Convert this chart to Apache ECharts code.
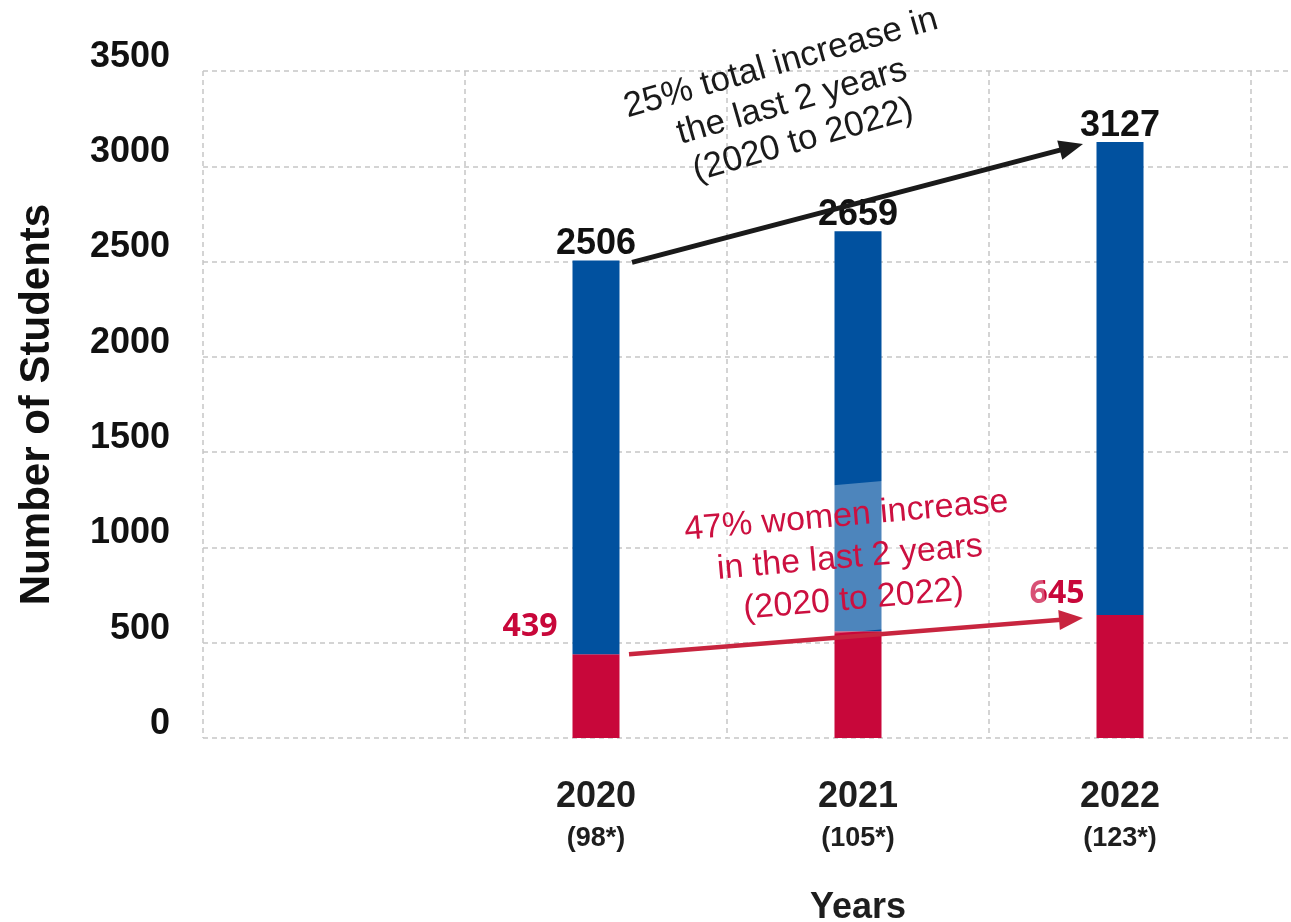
<!DOCTYPE html>
<html>
<head>
<meta charset="utf-8">
<script src="https://cdn.jsdelivr.net/npm/echarts@6/dist/echarts.min.js"></script>
<style>
html,body{margin:0;padding:0;background:#fff;}
#main{width:1291px;height:922px;}
</style>
</head>
<body>
<div id="main"></div>
<script>
// ---- data ----
const years = ['2020', '2021', '2022'];
const schoolCounts = ['98*', '105*', '123*'];
const women = [439, 560, 645];
const men = [2067, 2099, 2482];
const totals = [2506, 2659, 3127];
const totalNote = ['25% total increase in', 'the last 2 years', '(2020 to 2022)'];
const womenNote = ['47% women increase', 'in the last 2 years', '(2020 to 2022)'];

// ---- styling helpers ----
const womenLabelPos = [[-15, -27], null, [-12, -21]];
const FONT = '"Liberation Sans", Arial, sans-serif';
const cats = [''].concat(years);
const pad = arr => ['-'].concat(arr);
const gridLine = { color: '#c6c6c6', width: 1.5, type: [5, 4] };

const chart = echarts.init(document.getElementById('main'));

const womenData = pad(women.map((v, i) => ({
  value: v,
  label: womenLabelPos[i] ? { show: true, position: womenLabelPos[i] } : { show: false }
})));

chart.setOption({
  animation: false,
  textStyle: { fontFamily: FONT },
  grid: [
    { left: 203, top: 71, bottom: 184, right: 40, outerBoundsMode: 'none', containLabel: false },
    { left: 203, top: 71, bottom: 184, right: 0, outerBoundsMode: 'none', containLabel: false }
  ],
  xAxis: [
    {
      type: 'category',
      gridIndex: 0,
      data: cats,
      axisLine: { show: false },
      axisTick: { show: false },
      splitLine: { show: true, interval: 0, lineStyle: gridLine },
      axisLabel: {
        interval: 0,
        margin: 38,
        formatter: (v, i) => v ? '{y|' + v + '}\n{n|(' + schoolCounts[i - 1] + ')}' : '',
        rich: {
          y: { fontSize: 36, fontWeight: 'bold', lineHeight: 42, color: '#1e1e1e', fontFamily: FONT },
          n: { fontSize: 27, fontWeight: 'bold', lineHeight: 42, color: '#1e1e1e', fontFamily: FONT }
        }
      },
      name: 'Years',
      nameLocation: 'middle',
      nameGap: 152,
      nameTextStyle: {
        fontSize: 36, fontWeight: 'bold', color: '#1e1e1e', fontFamily: FONT,
        padding: [0, 0, 0, 262]
      }
    },
    { type: 'value', gridIndex: 1, show: false, min: 0, max: 1 }
  ],
  yAxis: [
    {
      type: 'value',
      gridIndex: 0,
      min: 0,
      max: 3500,
      interval: 500,
      axisLine: { show: false },
      axisTick: { show: false },
      splitLine: { show: false },
      axisLabel: {
        margin: 33, fontSize: 36, fontWeight: 'bold', color: '#111',
        fontFamily: FONT, verticalAlign: 'bottom', lineHeight: 28,
        formatter: v => String(v)
      },
      name: 'Number of Students',
      nameLocation: 'middle',
      nameGap: 145,
      nameTextStyle: { fontSize: 42, fontWeight: 'bold', color: '#111', fontFamily: FONT }
    },
    {
      type: 'value',
      gridIndex: 1,
      min: 0,
      max: 3500,
      interval: 500,
      axisLine: { show: false },
      axisTick: { show: false },
      axisLabel: { show: false },
      splitLine: { show: true, lineStyle: gridLine }
    }
  ],
  series: [
    {
      type: 'bar', name: 'Women', stack: 'students', barWidth: 47,
      xAxisIndex: 0, yAxisIndex: 0,
      itemStyle: { color: '#C8073A' },
      label: {
        show: true, align: 'right', verticalAlign: 'middle',
        fontSize: 32, fontWeight: 'bold', fontFamily: '"Open Sans", sans-serif',
        color: '#C8073A', formatter: '{c}'
      },
      data: womenData
    },
    {
      type: 'bar', name: 'Men', stack: 'students', barWidth: 47,
      xAxisIndex: 0, yAxisIndex: 0,
      itemStyle: { color: '#01519F' },
      label: {
        show: true, position: 'top', distance: 0, offset: [0, 2],
        fontSize: 36, fontWeight: 'bold', color: '#111', fontFamily: FONT,
        formatter: p => String(totals[p.dataIndex - 1])
      },
      data: pad(men)
    }
  ]
});

// ---- annotations anchored to data positions ----
const px = (i, v) => chart.convertToPixel({ xAxisIndex: 0, yAxisIndex: 0 }, [i + 1, v]);
function arrow(s, e, color, width, headLen, headW) {
  const dx = e[0] - s[0], dy = e[1] - s[1];
  const len = Math.sqrt(dx * dx + dy * dy);
  const ux = dx / len, uy = dy / len;
  const bx = e[0] - ux * headLen, by = e[1] - uy * headLen;
  return [
    { type: 'line', z: 110, shape: { x1: s[0], y1: s[1], x2: bx + ux * 2, y2: by + uy * 2 },
      style: { stroke: color, lineWidth: width } },
    { type: 'polygon', z: 110, shape: { points: [
        [e[0], e[1]],
        [bx - uy * headW / 2, by + ux * headW / 2],
        [bx + uy * headW / 2, by - ux * headW / 2]
      ] }, style: { fill: color } }
  ];
}
const add = (p, o) => [p[0] + o[0], p[1] + o[1]];
const deg = d => d * Math.PI / 180;

const bStart = add(px(0, totals[0]), [36, 2]);
const bEnd = add(px(2, totals[2]), [-37, 2]);
const rStart = add(px(0, women[0]), [33, 0]);
const rEnd = add(px(2, women[2]), [-37, 3]);

chart.setOption({
  graphic: [
    {
      type: 'text', z: 100, x: 850, y: 558, rotation: deg(5),
      style: {
        text: womenNote.join('\n'), fill: '#CC1040',
        fontSize: 34, fontFamily: FONT, align: 'center', verticalAlign: 'middle',
        lineHeight: 42, backgroundColor: 'rgba(255,255,255,0.3)', padding: [14, 28, 8, 28]
      }
    },
    {
      type: 'text', z: 100, x: 792, y: 102, rotation: deg(16),
      style: {
        text: totalNote.join('\n'), fill: '#1a1a1a',
        fontSize: 35, fontFamily: FONT, align: 'center', verticalAlign: 'middle',
        lineHeight: 40
      }
    }
  ].concat(
    arrow(bStart, bEnd, '#1a1a1a', 5, 24, 20),
    arrow(rStart, rEnd, '#C8253F', 4.5, 24, 20)
  )
});
</script>
</body>
</html>
